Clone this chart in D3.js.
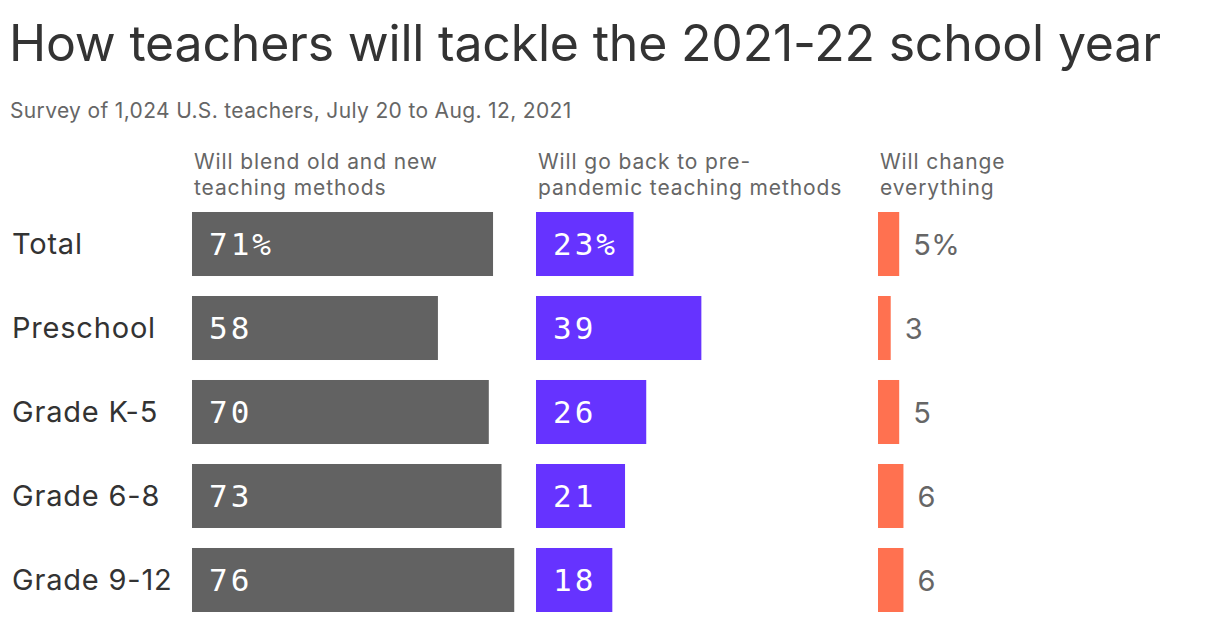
<!DOCTYPE html>
<html>
<head>
<meta charset="utf-8">
<script src="https://cdn.jsdelivr.net/npm/d3@7"></script>
<style>
  html, body { margin: 0; padding: 0; background: #fff; }
  svg { display: block; }
</style>
</head>
<body>
<script>
const title = "How teachers will tackle the 2021-22 school year";
const subtitle = "Survey of 1,024 U.S. teachers, July 20 to Aug. 12, 2021";
const categories = ["Total", "Preschool", "Grade K-5", "Grade 6-8", "Grade 9-12"];
const seriesNames = [
  ["Will blend old and new", "teaching methods"],
  ["Will go back to pre-", "pandemic teaching methods"],
  ["Will change", "everything"]
];
const blendValues = [71, 58, 70, 73, 76];
const backValues = [23, 39, 26, 21, 18];
const changeValues = [5, 3, 5, 6, 6];
const seriesColors = ["#626262", "#6633ff", "#ff7150"];

const W = 1220, H = 622;
const svg = d3.select("body").append("svg").attr("width", W).attr("height", H);
const sans = "Inter, 'Noto Sans', sans-serif";
const mono = "'DejaVu Sans Mono', 'Liberation Mono', monospace";

svg.append("text").attr("x", 9).attr("y", 61)
  .attr("font-family", sans).attr("font-size", 50).attr("fill", "#333")
  .attr("letter-spacing", -0.2)
  .text(title);
svg.append("text").attr("x", 10).attr("y", 118)
  .attr("font-family", sans).attr("font-size", 21).attr("fill", "#666")
  .attr("letter-spacing", 0.35)
  .text(subtitle);

const x = d3.scaleLinear().domain([0, 100]).range([0, 424]);
const y = d3.scaleBand().domain(categories).range([212, 612]).paddingInner(0.238).paddingOuter(0);
const colX = [192, 536, 878];
const series = [blendValues, backValues, changeValues];

// row labels
svg.append("g").selectAll("text").data(categories).join("text")
  .attr("x", 12).attr("y", d => y(d) + y.bandwidth() / 2 + 10)
  .attr("font-family", sans).attr("font-size", 29).attr("fill", "#333")
  .attr("letter-spacing", 0.8)
  .text(d => d);

series.forEach((vals, si) => {
  const g = svg.append("g").attr("transform", `translate(${colX[si]},0)`);
  const ht = g.append("text").attr("x", 2).attr("y", 169)
    .attr("font-family", sans).attr("font-size", 21).attr("fill", "#666")
    .attr("letter-spacing", 0.9);
  seriesNames[si].forEach((line, li) => {
    ht.append("tspan").attr("x", 2).attr("dy", li === 0 ? 0 : 26).text(line);
  });
  g.selectAll("rect").data(vals).join("rect")
    .attr("x", 0).attr("y", (d, i) => y(categories[i]))
    .attr("width", d => x(d)).attr("height", y.bandwidth())
    .attr("fill", seriesColors[si]);
  g.selectAll("text.val").data(vals).join("text").attr("class", "val")
    .attr("x", d => si < 2 ? 17 : x(d) + 14)
    .attr("y", (d, i) => y(categories[i]) + y.bandwidth() / 2 + 11)
    .attr("font-family", si < 2 ? mono : sans)
    .attr("font-size", si < 2 ? 31 : 29)
    .attr("letter-spacing", si < 2 ? 3 : 0.5)
    .attr("fill", si < 2 ? "#fff" : "#666")
    .text((d, i) => i === 0 ? d + "%" : d);
});
</script>
</body>
</html>
